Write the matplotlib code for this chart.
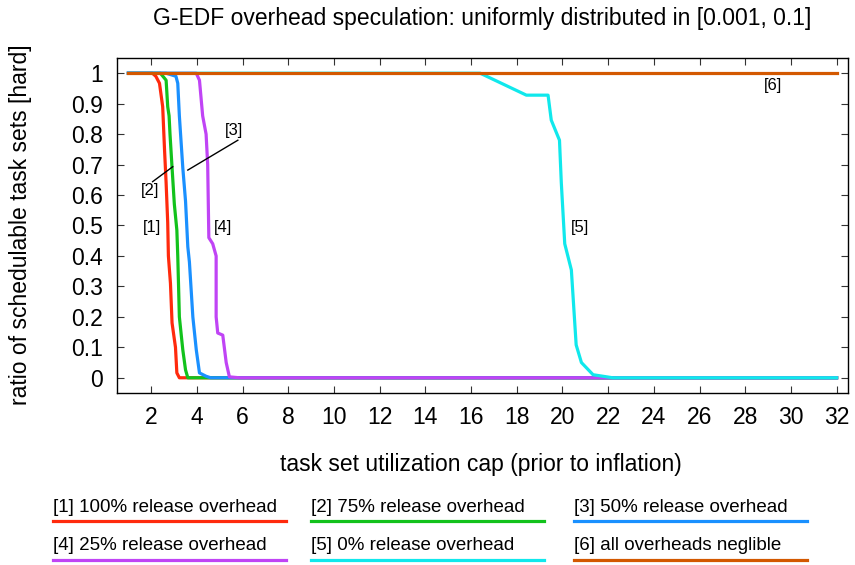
import matplotlib
matplotlib.use("Agg")
import matplotlib.pyplot as plt
from matplotlib.lines import Line2D

plt.rcParams['font.family'] = ['Liberation Sans', 'DejaVu Sans']

# schedulability curves, x = utilization cap, y = ratio schedulable
x1 = [1, 2.05, 2.2, 2.36, 2.5, 2.58, 2.65, 2.72, 2.75, 2.84, 2.91, 3.06, 3.12, 3.23, 32]
y1 = [1, 1, 0.99, 0.967, 0.89, 0.75, 0.64, 0.51, 0.40, 0.31, 0.18, 0.10, 0.016, 0, 0]

x2 = [1, 2.4, 2.65, 2.72, 2.78, 2.82, 2.91, 3.01, 3.12, 3.16, 3.23, 3.38, 3.5, 3.6, 32]
y2 = [1, 1, 0.977, 0.89, 0.86, 0.80, 0.69, 0.57, 0.485, 0.40, 0.20, 0.092, 0.026, 0, 0]

x3 = [1, 2.65, 3.08, 3.16, 3.23, 3.38, 3.5, 3.6, 3.67, 3.82, 3.97, 4.11, 4.4, 4.6, 32]
y3 = [1, 1, 0.99, 0.967, 0.86, 0.69, 0.58, 0.43, 0.38, 0.20, 0.092, 0.016, 0.005, 0, 0]

x4 = [1, 3.97, 4.11, 4.25, 4.4, 4.47, 4.52, 4.69, 4.84, 4.84, 4.91, 5.13, 5.28, 5.42, 5.86, 32]
y4 = [1, 1, 0.977, 0.86, 0.80, 0.70, 0.46, 0.44, 0.40, 0.20, 0.147, 0.14, 0.05, 0.003, 0, 0]

x5 = [1, 16.4, 18.42, 19.37, 19.51, 19.87, 19.95, 20.1, 20.39, 20.6, 20.83, 21.34, 22.2, 32]
y5 = [1, 1, 0.928, 0.928, 0.846, 0.78, 0.64, 0.44, 0.354, 0.108, 0.05, 0.01, 0, 0]

x6 = [1, 32]
y6 = [1, 1]

labels = ["[1] 100% release overhead", "[2] 75% release overhead",
          "[3] 50% release overhead", "[4] 25% release overhead",
          "[5] 0% release overhead", "[6] all overheads neglible"]
colors = ["#ff2a0d", "#12c21c", "#1a90ff", "#c044f5", "#10e8ec", "#d35800"]

fig = plt.figure(figsize=(8.55, 5.65), dpi=100)
ax = fig.add_axes([117/855, 1 - 393/565, 731/855, 335/565])

for xs, ys, c in zip([x1, x2, x3, x4, x5, x6], [y1, y2, y3, y4, y5, y6], colors):
    ax.plot(xs, ys, color=c, lw=2.3, solid_joinstyle='round')

ax.set_xlim(0.5, 32.5)
ax.set_ylim(-0.05, 1.05)
ax.set_xticks(range(2, 33, 2))
ax.set_yticks([i / 10 for i in range(11)])
ax.set_yticklabels(["0", "0.1", "0.2", "0.3", "0.4", "0.5", "0.6", "0.7", "0.8", "0.9", "1"])
ax.tick_params(direction='in', length=5, width=0.8, top=True, right=True,
               labelsize=16.5, color='#333333')
ax.tick_params(axis='y', pad=10)
ax.tick_params(axis='x', pad=9)
for s in ax.spines.values():
    s.set_linewidth(1.0)

# curve tags
tfs = 12
ax.text(2.05, 0.495, "[1]", fontsize=tfs, ha='center', va='center')
ax.text(1.96, 0.616, "[2]", fontsize=tfs, ha='center', va='center')
ax.plot([2.06, 2.94], [0.644, 0.693], color='black', lw=1)
ax.text(5.64, 0.813, "[3]", fontsize=tfs, ha='center', va='center')
ax.plot([5.79, 3.6], [0.78, 0.682], color='black', lw=1)
ax.text(5.16, 0.495, "[4]", fontsize=tfs, ha='center', va='center')
ax.text(20.75, 0.495, "[5]", fontsize=tfs, ha='center', va='center')
ax.text(29.2, 0.96, "[6]", fontsize=tfs, ha='center', va='center')

fig.text(482/855, 1 - 18/565, "G-EDF overhead speculation: uniformly distributed in [0.001, 0.1]",
         fontsize=16.5, ha='center', va='center')
fig.text(481/855, 1 - 464/565, "task set utilization cap (prior to inflation)",
         fontsize=16.5, ha='center', va='center')
fig.text(21/855, 1 - 225/565, "ratio of schedulable task sets [hard]",
         fontsize=16.5, ha='center', va='center', rotation=90)

# legend: text over a coloured bar, 3 columns x 2 rows
col_x = [53, 311, 574]
row_y = [507, 546]
for i, (lab, c) in enumerate(zip(labels, colors)):
    cx = col_x[i % 3]
    ry = row_y[i // 3]
    fig.text(cx / 855, 1 - ry / 565, lab, fontsize=13.5, ha='left', va='center')
    fig.add_artist(Line2D([cx / 855, (cx + 233) / 855],
                          [1 - (ry + 14) / 565, 1 - (ry + 14) / 565],
                          color=c, lw=2.3, transform=fig.transFigure))

fig.savefig("out.png", dpi=100)
